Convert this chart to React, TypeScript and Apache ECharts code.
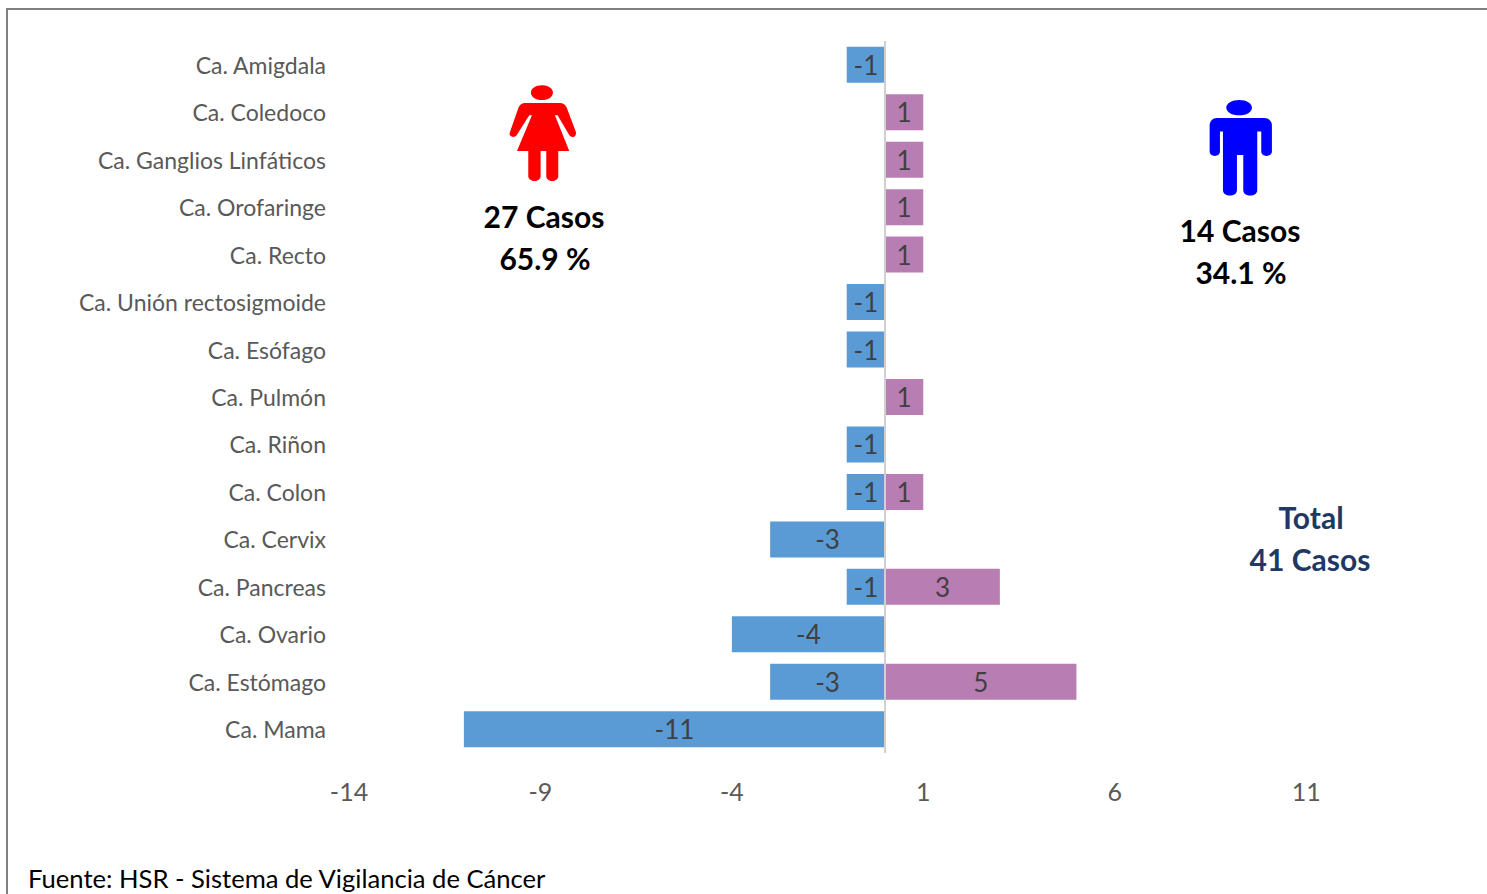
import React, { useEffect, useRef } from "react";
import * as echarts from "echarts";

const categories = ["Ca. Amigdala", "Ca. Coledoco", "Ca. Ganglios Linfáticos", "Ca. Orofaringe", "Ca. Recto", "Ca. Unión rectosigmoide", "Ca. Esófago", "Ca. Pulmón", "Ca. Riñon", "Ca. Colon", "Ca. Cervix", "Ca. Pancreas", "Ca. Ovario", "Ca. Estómago", "Ca. Mama"];
const femenino = [-1, null, null, null, null, -1, -1, null, -1, -1, -3, -1, -4, -3, -11];
const masculino = [null, 1, 1, 1, 1, null, null, 1, null, 1, null, 3, null, 5, null];
const xTicks = [-14, -9, -4, 1, 6, 11];

const FONT = "Lato";
const womanPath = "M186 46C206 46 219 56 219 68C219 80 206 90 186 90C166 90 153 80 153 68C153 56 166 46 186 46ZM135 99L240 99C250 99 256 104 260 112L288 186C290 194 286 200 280 201C274 202 270 199 267 194L233 136L225 136L268 243L235 243L235 318C235 328 226 333 217 333C208 333 199 328 199 318L199 243L182 243L182 318C182 328 173 333 164 333C155 333 145 328 145 318L145 243L111 243L156 136L148 136L110 196C106 201 100 202 95 200C89 197 87 192 90 186L116 112C120 104 126 99 135 99Z";
const manPath = "M178 45C200 45 216 55 216 68C216 81 200 91 178 91C156 91 139 81 139 68C139 55 156 45 178 45ZM110 99L253 99C267 99 276 109 276 122L276 200C276 208 268 213 260 213C251 213 244 208 244 200L244 140L232 140L232 315C232 326 222 332 211 332C200 332 190 326 190 315L190 210L171 210L171 315C171 326 161 332 150 332C139 332 129 326 129 315L129 140L120 140L120 200C120 208 113 213 105 213C96 213 89 208 89 200L89 122C89 109 98 99 110 99Z";
echarts.graphic.registerShape("woman", echarts.graphic.extendPath(womanPath, {}));
echarts.graphic.registerShape("man", echarts.graphic.extendPath(manPath, {}));

const bigText = (x: number, y: number, text: string, fill: string) => ({
  type: "text", x, y,
  style: { text, fill, font: `bold 30px ${FONT}`, textAlign: "center", textVerticalAlign: "middle" },
});

export default function App() {
  const ref = useRef<HTMLDivElement>(null);
  useEffect(() => {
    const chart = echarts.init(ref.current!, null, { renderer: "svg" });
    const barLabel = { show: true, position: "inside", color: "#404040", fontFamily: FONT, fontSize: 26 };
    chart.setOption({
      animation: false,
      backgroundColor: "#ffffff",
      grid: { left: 349, top: 41, width: 1072, height: 712, containLabel: false },
      xAxis: {
        type: "value", min: -14, max: 14,
        axisLine: { show: false }, axisTick: { show: false }, splitLine: { show: false },
        axisLabel: { customValues: xTicks, color: "#595959", fontFamily: FONT, fontSize: 25, margin: 25 },
      },
      yAxis: {
        type: "category", inverse: true, data: categories,
        axisLine: { show: false, onZero: false }, axisTick: { show: false },
        axisLabel: { color: "#595959", fontFamily: FONT, fontSize: 23, margin: 23, align: "right" },
      },
      series: [
        {
          name: "Femenino", type: "bar", stack: "casos", data: femenino, barWidth: 36,
          itemStyle: { color: "#5b9bd5" }, label: barLabel,
          markLine: {
            silent: true, symbol: "none", label: { show: false },
            lineStyle: { color: "#d0d0d0", width: 2, type: "solid" },
            data: [{ xAxis: 0 }],
          },
        },
        {
          name: "Masculino", type: "bar", stack: "casos", data: masculino, barWidth: 36,
          itemStyle: { color: "#b87db3" }, label: barLabel,
        },
      ],
      graphic: [
        { type: "line", shape: { x1: 7, y1: 9, x2: 1487, y2: 9 }, style: { stroke: "#808080", lineWidth: 2 } },
        { type: "line", shape: { x1: 7, y1: 8, x2: 7, y2: 894 }, style: { stroke: "#808080", lineWidth: 2 } },
        { type: "woman", x: 480, y: 70, scaleX: 1 / 3, scaleY: 1 / 3, style: { fill: "#ff0000" } },
        { type: "man", x: 1180, y: 85, scaleX: 1 / 3, scaleY: 1 / 3, style: { fill: "#0000ff" } },
        bigText(544, 216, "27 Casos", "#000000"),
        bigText(545, 258, "65.9 %", "#000000"),
        bigText(1240, 230, "14 Casos", "#000000"),
        bigText(1241, 272, "34.1 %", "#000000"),
        bigText(1311, 517, "Total", "#1f3864"),
        bigText(1310, 559, "41 Casos", "#1f3864"),
        { type: "text", x: 28, y: 878, style: { text: "Fuente: HSR - Sistema de Vigilancia de Cáncer", fill: "#000000", font: `25.6px ${FONT}`, textAlign: "left", textVerticalAlign: "middle" } },
      ],
    });
    return () => chart.dispose();
  }, []);
  return <div ref={ref} style={{ position: "fixed", left: 0, top: 0, width: 1487, height: 894 }} />;
}
